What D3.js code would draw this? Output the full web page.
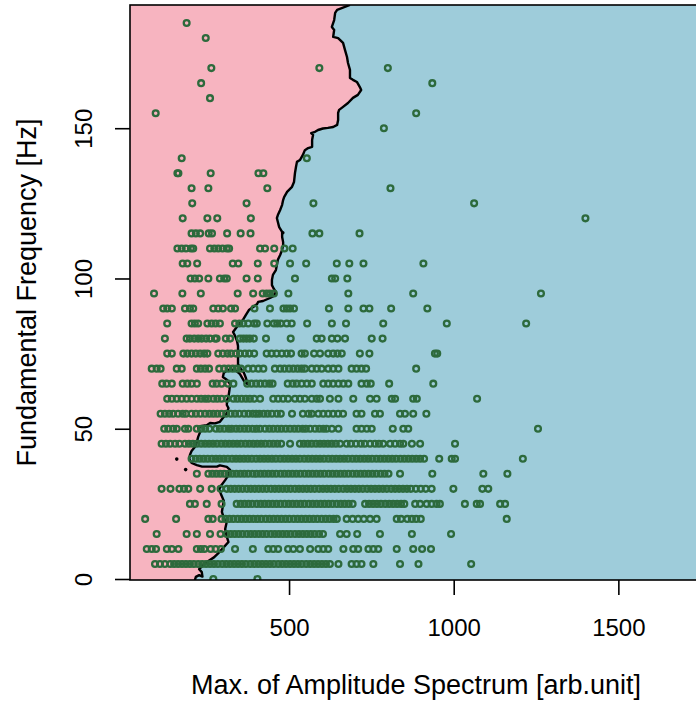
<!DOCTYPE html>
<html><head><meta charset="utf-8">
<script src="https://cdn.jsdelivr.net/npm/d3@7"></script>
<style>body{margin:0;background:#fff}svg{display:block}text{font-family:"Liberation Sans",Arial,Helvetica,sans-serif;fill:#000}</style>
</head><body><svg id="c" width="696" height="704"></svg>
<script>
// ---- data ----
const xTicks = [500, 1000, 1500];
const yTicks = [0, 50, 100, 150];
const xLabel = "Max. of Amplitude Spectrum [arb.unit]";
const yLabel = "Fundamental Frequency [Hz]";

// amplitude values of observations, one array per fundamental-frequency level (Hz)
const f0 = [270,404];
const f5 = [93,108,123,139,151,163,175,187,199,211,224,236,248,260,272,284,297,309,321,333,345,357,369,382,394,406,418,430,442,454,467,479,491,503,515,527,539,552,564,576,588,600,612,624,650,690,705,720,756,837,893,1053];
const f10 = [68,83,96,129,144,164,220,232,243,262,277,293,336,390,437,452,467,497,513,533,564,589,604,619,665,695,710,741,756,771,827,877,904,931];
const f15 = [98,189,220,260,292,311,323,335,347,359,372,384,396,408,420,432,445,457,469,481,493,505,518,530,542,554,566,578,591,603,655,675,707,776,873,992];
const f20 = [63,157,255,268,295,307,319,331,344,356,368,380,392,404,416,429,441,453,465,477,489,501,514,526,538,550,562,574,586,599,611,623,635,645,675,693,710,727,746,766,827,840,859,873,886,900,1161];
const f25 = [199,214,250,295,341,353,365,377,389,402,414,426,438,450,462,474,487,499,511,523,535,547,560,572,584,596,608,620,632,645,657,669,681,693,731,743,755,767,779,792,804,816,828,840,850,883,898,918,933,948,958,1034,1070,1080,1141,1156];
const f30 = [113,140,167,181,194,230,265,292,311,323,335,347,359,372,384,396,408,420,432,445,457,469,481,493,505,518,530,542,554,566,578,591,603,615,627,639,651,664,676,688,700,712,724,737,749,761,773,785,797,810,822,834,846,858,870,885,900,915,933,999,1087,1105];
const f35 = [220,255,267,279,291,303,316,328,340,352,364,376,389,401,413,425,437,449,461,474,486,498,510,522,534,547,559,571,583,595,607,620,632,644,656,668,680,693,705,717,729,741,753,765,778,790,802,837,935,1090,1163];
const f40 = [204,217,229,241,253,266,278,290,302,314,327,339,351,363,375,387,400,412,424,436,448,460,473,485,497,509,521,533,546,558,570,582,594,606,619,631,643,655,667,679,692,704,716,728,740,752,765,777,789,801,813,825,838,850,862,874,886,898,910,956,994,1004,1210];
const f45 = [113,126,139,154,167,184,196,208,220,233,245,257,269,281,294,306,318,330,342,354,367,379,391,403,415,427,440,452,464,476,503,533,545,557,569,582,594,606,618,630,642,655,675,688,703,718,730,746,761,773,786,807,822,837,847,873,898,1004];
const f50 = [121,133,148,159,184,194,220,233,245,258,278,290,303,316,326,339,351,364,376,389,401,412,427,440,452,465,477,490,503,516,528,541,551,564,579,592,604,614,630,650,705,720,736,751,815,847,862,1256];
const f55 = [110,123,136,148,163,177,187,204,217,231,245,258,270,282,295,309,323,336,349,364,377,390,400,410,423,435,448,463,475,509,542,559,569,589,604,619,634,649,664,705,720,761,776,837,852,877,917];
const f60 = [130,144,159,174,189,204,220,233,245,255,270,282,295,311,331,343,356,369,381,394,412,452,467,482,497,518,533,548,569,584,594,624,650,695,746,766,812,822,877,888,1071];
const f65 = [115,128,144,177,191,204,220,268,280,295,315,331,373,386,400,413,427,440,450,496,511,523,538,554,569,604,619,634,650,665,680,720,736,748,804,938];
const f70 = [83,98,110,159,174,220,232,245,257,288,303,316,329,341,354,376,391,407,422,457,473,486,500,513,526,538,548,569,584,599,619,634,650,690,705,720,734,886];
const f75 = [130,144,179,191,204,217,230,242,252,285,299,313,324,339,351,366,379,394,432,447,462,478,493,506,538,548,576,594,619,634,647,660,715,744,943,950];
const f80 = [123,189,199,212,224,235,248,260,275,280,308,321,351,361,371,381,393,430,505,584,599,630,647,670,751,784];
const f85 = [130,204,214,224,252,265,277,290,336,349,361,376,394,402,434,454,464,475,493,508,555,630,673,786,979,1220];
const f90 = [118,130,144,184,199,209,270,285,299,324,336,395,442,483,493,503,515,621,680,726,744,810,920];
const f95 = [90,176,232,344,391,420,432,442,454,498,680,877,1265];
const f100 = [201,214,227,255,290,303,311,371,405,518,630,640,677];
const f105 = [177,191,221,329,346,405,455,503,552,645,683,726,908];
const f110 = [161,174,187,202,209,260,273,285,298,311,318,412,427,455,486,511];
const f115 = [204,217,230,256,266,312,353,383,571,592,714];
const f120 = [177,252,282,384,1400];
const f125 = [206,371,574,1062];
const f130 = [204,255,434,808];
const f135 = [161,164,262,407,422];
const f140 = [174,554];
const f150 = [788];
const f155 = [95,886];
const f160 = [260];
const f165 = [233,935];
const f170 = [264,592,800];
const f180 = [247];
const f185 = [189];
const rows = [[0,f0],[5,f5],[10,f10],[15,f15],[20,f20],[25,f25],[30,f30],[35,f35],[40,f40],[45,f45],[50,f50],[55,f55],[60,f60],[65,f65],[70,f70],[75,f75],[80,f80],[85,f85],[90,f90],[95,f95],[100,f100],[105,f105],[110,f110],[115,f115],[120,f120],[125,f125],[130,f130],[135,f135],[140,f140],[150,f150],[155,f155],[160,f160],[165,f165],[170,f170],[180,f180],[185,f185]];

// decision boundary (top to bottom)
const boundaryAmp = [685,646,640,637,630,637,634,649,664,670,676,679,685,685,694,706,715,719,709,694,679,664,652,649,649,646,634,618,603,588,579,567,573,570,570,558,548,542,533,524,521,518,515,509,494,485,482,479,473,466,463,466,470,479,479,482,482,479,473,466,463,460,451,448,448,454,460,454,442,421,406,403,391,378,369,360,348,339,330,336,342,345,345,345,345,354,363,369,374,363,351,336,315,302,299,312,321,319,316,312,311,316,311,299,290,275,260,250,235,224,230,224,220,214,204,199,197,204,220,236,260,281,290,311,321,316,306,295,288,293,302,299,296,302,310,306,311,316,302,287,272,255,240,227,235,237,227,217,214];
const boundaryFreq = [191.0,189.4,188.4,186.0,183.7,182.7,180.4,180.0,178.4,176.0,173.7,171.7,169.4,166.7,166.1,165.4,163.7,162.7,161.1,160.1,158.4,157.1,156.1,155.1,152.7,151.1,150.4,150.1,149.9,149.4,148.8,148.4,147.8,146.1,143.8,143.4,142.7,141.1,139.4,138.8,137.1,135.1,132.1,130.5,128.8,127.1,126.1,124.5,122.8,121.1,120.1,118.8,117.1,115.5,113.8,112.1,111.1,109.5,107.8,106.2,104.5,102.8,101.2,99.5,97.8,96.5,95.5,94.2,93.5,92.5,92.2,91.5,90.5,89.5,87.9,86.2,84.9,83.5,82.2,80.9,79.2,77.5,75.5,73.5,71.5,69.9,68.6,66.9,64.9,65.9,68.2,69.6,69.6,68.6,67.2,66.2,64.9,62.9,60.6,59.6,57.9,56.9,55.2,53.6,52.3,51.8,51.9,51.2,50.9,50.2,48.9,47.3,45.6,43.9,42.6,41.3,39.9,38.6,37.9,37.4,37.4,37.4,37.8,37.3,36.3,34.6,32.9,31.3,29.9,28.3,26.0,24.3,22.3,20.3,18.6,16.6,14.1,12.3,10.6,8.8,7.2,6.0,4.7,3.3,2.3,0.8,1.3,0.7,-0.33];
// small isolated boundary specks
const islandAmp = [159,186,481];
const islandFreq = [39.9,36.4,115.2];

// ---- drawing ----
const xScale = d3.scaleLinear().domain([17, 1754]).range([130, 702]);
const yScale = d3.scaleLinear().domain([-0.33, 191]).range([580, 5]);
const svg = d3.select("#c");
const [x0, x1] = xScale.domain(), [y0, y1] = yScale.domain();

svg.append("defs").append("clipPath").attr("id","clip").append("rect")
  .attr("x", xScale(x0)).attr("y", yScale(y1))
  .attr("width", xScale(x1)-xScale(x0)).attr("height", yScale(y0)-yScale(y1));
const plot = svg.append("g").attr("clip-path","url(#clip)");

plot.append("rect").attr("x", xScale(x0)).attr("y", yScale(y1))
  .attr("width", xScale(x1)-xScale(x0)).attr("height", yScale(y0)-yScale(y1))
  .attr("fill", "#9eccda");

const bpts = boundaryAmp.map((a,i)=>[a, boundaryFreq[i]]);
const poly = bpts.concat([[x0, y0],[x0, y1]]);
const line = d3.line().x(d=>xScale(d[0])).y(d=>yScale(d[1]));
plot.append("path").attr("d", line(poly)+"Z").attr("fill","#f7b4c0");
plot.append("path").attr("d", line(bpts)).attr("fill","none")
  .attr("stroke","#000").attr("stroke-width",2.4).attr("stroke-linejoin","round");
plot.selectAll("circle.isl").data(islandAmp.map((a,i)=>[a,islandFreq[i]])).join("circle")
  .attr("class","isl").attr("cx",d=>xScale(d[0])).attr("cy",d=>yScale(d[1])).attr("r",1.8).attr("fill","#000");

const pts = [];
rows.forEach(([f, arr]) => arr.forEach(a => pts.push([a, f])));
plot.selectAll("circle.pt").data(pts).join("circle").attr("class","pt")
  .attr("cx", d=>xScale(d[0])).attr("cy", d=>yScale(d[1])).attr("r", 2.9)
  .attr("fill","none").attr("stroke","#2d6a3c").attr("stroke-width",2.3);

// box
svg.append("rect").attr("x", xScale(x0)).attr("y", yScale(y1))
  .attr("width", xScale(x1)-xScale(x0)).attr("height", yScale(y0)-yScale(y1))
  .attr("fill","none").attr("stroke","#000").attr("stroke-width",1.6);

// axes
const xAxis = svg.append("g").attr("transform",`translate(0,${yScale(y0)})`)
  .call(d3.axisBottom(xScale).tickValues(xTicks).tickSize(15).tickFormat(d3.format("d")));
xAxis.select(".domain").remove();
xAxis.selectAll("line").attr("stroke-width",1.6);
xAxis.selectAll("text").attr("y", null).attr("dy", null)
  .attr("transform", `translate(0,${636 - yScale(y0)})`)
  .style("font-size","24px").attr("fill","#000");

const yAxis = svg.append("g").attr("transform",`translate(${xScale(x0)},0)`)
  .call(d3.axisLeft(yScale).tickValues(yTicks).tickSize(15).tickFormat(d3.format("d")));
yAxis.select(".domain").remove();
yAxis.selectAll("line").attr("stroke-width",1.6);
yAxis.selectAll("text").attr("x", null).attr("dy", null).attr("text-anchor","middle")
  .attr("transform", `translate(${91.5 - xScale(x0)},0) rotate(-90)`)
  .style("font-size","24px").attr("fill","#000");
xAxis.attr("font-family",null); yAxis.attr("font-family",null);

svg.append("text").attr("x", (xScale(x0)+xScale(x1))/2).attr("y", 694)
  .attr("text-anchor","middle").style("font-size","27px").text(xLabel);
svg.append("text").attr("transform", `translate(36,${(yScale(y0)+yScale(y1))/2}) rotate(-90)`)
  .attr("text-anchor","middle").style("font-size","27px").text(yLabel);
</script></body></html>
